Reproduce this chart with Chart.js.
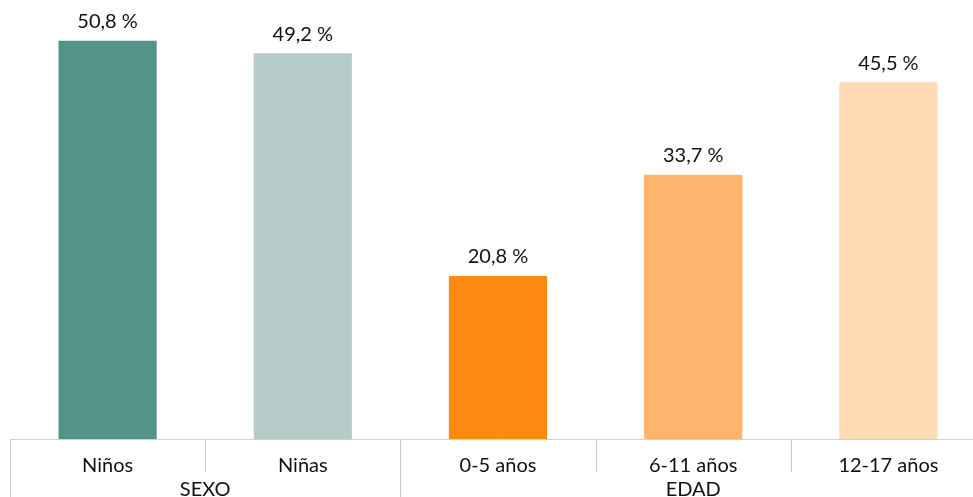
<!DOCTYPE html>
<html>
<head>
<meta charset="utf-8">
<script src="https://cdn.jsdelivr.net/npm/chart.js@4"></script>
<style>
  html, body { margin: 0; padding: 0; background: #fff; overflow: hidden; }
  #wrap { width: 986px; height: 497px; }
</style>
</head>
<body>
<div id="wrap"><canvas id="grafico"></canvas></div>
<script>
// datos
const categorias = ["Niños", "Niñas", "0-5 años", "6-11 años", "12-17 años"];
const valores = [50.8, 49.2, 20.8, 33.7, 45.5];
const colores = ["#52948a", "#b5cbc8", "#ff8a12", "#ffb46e", "#ffdbb3"];
const grupos = ["SEXO", "EDAD"];
const gruposTamano = [2, 3];

const fuente = "Lato, 'Open Sans', sans-serif";
const tamano = 20;

// separadores y etiquetas de grupo debajo del eje
const ejeGrupos = {
  id: "ejeGrupos",
  afterDraw(chart) {
    const ctx = chart.ctx;
    const x = chart.scales.x;
    const area = chart.chartArea;
    const ancho = x.getPixelForValue(1) - x.getPixelForValue(0);
    ctx.save();
    ctx.strokeStyle = "#c9c9c9";
    ctx.lineWidth = 1;
    // limites de grupo
    const limites = [0];
    gruposTamano.forEach((n, i) => limites.push(limites[i] + n));
    for (let i = 0; i <= categorias.length; i++) {
      const px = Math.round(x.getPixelForValue(i) - ancho / 2) + 0.5;
      const largo = limites.includes(i) ? chart.height : 472;
      ctx.beginPath();
      ctx.moveTo(px, area.bottom);
      ctx.lineTo(px, largo);
      ctx.stroke();
    }
    ctx.fillStyle = "#111";
    ctx.font = tamano + "px " + fuente;
    ctx.textAlign = "center";
    ctx.textBaseline = "middle";
    grupos.forEach((g, i) => {
      const ini = limites[i], fin = limites[i + 1] - 1;
      const cx = (x.getPixelForValue(ini) + x.getPixelForValue(fin)) / 2;
      ctx.fillText(g, cx, 490);
    });
    ctx.restore();
  },
};

// etiquetas de valor
const etiquetas = {
  id: "etiquetas",
  afterDatasetsDraw(chart) {
    const ctx = chart.ctx;
    const meta = chart.getDatasetMeta(0);
    ctx.save();
    ctx.fillStyle = "#111";
    ctx.font = tamano + "px " + fuente;
    ctx.textAlign = "center";
    ctx.textBaseline = "middle";
    meta.data.forEach((bar, i) => {
      const txt = valores[i].toFixed(1).replace(".", ",") + " %";
      ctx.fillText(txt, bar.x, bar.y - 19);
    });
    ctx.restore();
  },
};

new Chart(document.getElementById("grafico"), {
  type: "bar",
  data: {
    labels: categorias,
    datasets: [
      {
        data: valores,
        backgroundColor: colores,
        borderWidth: 0,
        barPercentage: 1,
        categoryPercentage: 0.503,
      },
    ],
  },
  options: {
    responsive: true,
    maintainAspectRatio: false,
    animation: false,
    layout: { padding: { left: 10, right: 0, top: 0, bottom: 0 } },
    plugins: { legend: { display: false }, tooltip: { enabled: false } },
    scales: {
      y: { display: false, min: 0, max: 56 },
      x: {
        grid: { display: false, drawTicks: false },
        border: { display: true, color: "#d0d0d0", width: 1 },
        ticks: { color: "#111", font: { family: fuente, size: tamano }, padding: 15, maxRotation: 0 },
        afterFit(scale) { scale.height = 58; },
      },
    },
  },
  plugins: [ejeGrupos, etiquetas],
});
</script>
</body>
</html>
